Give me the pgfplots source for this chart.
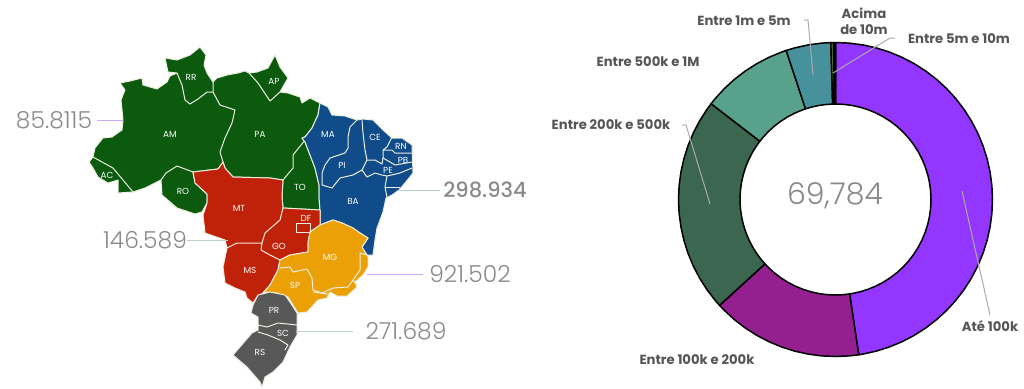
\documentclass[border=0pt]{standalone}
\usepackage{pgfplots}
\pgfplotsset{compat=1.18}
\usepackage{fontspec}
\setmainfont{Poppins}
\newfontfamily\thinface{Poppins Light}
\newfontfamily\midface{Poppins Medium}
\definecolor{mgreen}{HTML}{0B5A0E}
\definecolor{mblue}{HTML}{0F4C89}
\definecolor{mred}{HTML}{C02209}
\definecolor{morange}{HTML}{EBA006}
\definecolor{mgray}{HTML}{585858}
\definecolor{bord}{HTML}{EDEDE0}
\definecolor{numc}{HTML}{8A8A8A}
\definecolor{labc}{HTML}{555555}
\definecolor{leadc}{HTML}{ABABAB}
\definecolor{dpurple}{HTML}{9336FF}
\definecolor{dmag}{HTML}{941F8F}
\definecolor{dgreen}{HTML}{3B6650}
\definecolor{dlight}{HTML}{58A28C}
\definecolor{dteal}{HTML}{46919B}
\definecolor{dolive}{HTML}{5F7F2A}
\definecolor{leadp}{HTML}{C9A8F5}
\definecolor{leadg}{HTML}{B8D2CC}
\newcommand{\mapnum}[1]{{\thinface\fontsize{11.7}{12}\selectfont\textcolor{numc}{#1}}}
\newcommand{\donutlab}[1]{{\bfseries\fontsize{6.6}{8}\selectfont\textcolor{labc}{#1}}}
\newcommand{\statelab}[1]{{\fontsize{4.4}{5}\selectfont\textcolor{white}{#1}}}
\begin{document}
\begin{tikzpicture}
\begin{axis}[scale only axis,x=0.5pt,y=0.5pt,xmin=0,xmax=1024,ymin=0,ymax=388,y dir=reverse,hide axis,
  region/.style={fill=#1,draw=bord,line width=0.5pt,line join=round},
  innerb/.style={draw=bord,line width=0.5pt,line join=round,no marks},
  slice/.style={fill=#1,draw=black,line width=0.75pt,line join=round},
  leader/.style={draw=#1,line width=0.5pt,no marks}]
\path (axis cs:0,0) rectangle (axis cs:1024,388);
% North
\addplot[region=mgreen] coordinates {(93,157)(95,148)(103,138)(112,137)(122,130)(123,120)(121,100)(125,90)(120,83)(130,81)(142,78)(143,85)(157,89)(167,82)(170,76)(177,73)(168,72)(165,58)(177,60)(190,55)(200,47)(206,55)(204,65)(207,73)(213,82)(217,78)(227,75)(238,73)(245,71)(249,73)(257,72)(268,68)(275,55)(280,67)(288,78)(280,92)(288,93)(300,97)(302,103)(310,98)(320,103)(318,115)(312,128)(305,137)(302,138)(305,142)(310,155)(315,168)(319,185)(319,197)(320,210)(283,208)(282,197)(283,180)(270,178)(233,177)(225,168)(223,162)(218,169)(193,172)(195,183)(207,194)(207,203)(202,212)(195,214)(177,208)(162,195)(161,180)(145,188)(133,192)(118,193)(118,180)(108,183)(98,177)(93,168)(89,162)} --cycle;
\addplot[innerb] coordinates {(93,157)(113,168)(123,180)(133,192)};
\addplot[innerb] coordinates {(177,73)(182,85)(185,100)(190,104)(198,99)(207,92)(213,92)(213,82)};
\addplot[innerb] coordinates {(213,92)(220,105)(235,110)(232,123)(225,138)(220,152)(223,162)};
\addplot[innerb] coordinates {(161,180)(166,173)(177,166)(193,172)};
\addplot[innerb] coordinates {(249,73)(258,83)(270,101)(280,92)};
\addplot[innerb] coordinates {(305,140)(293,155)(293,168)(283,180)};
% Northeast
\addplot[region=mblue] coordinates {(320,103)(328,107)(332,115)(345,116)(357,120)(363,119)(373,120)(383,130)(392,138)(402,138)(412,145)(413,173)(405,183)(399,190)(392,195)(386,198)(383,212)(377,228)(375,240)(373,255)(367,255)(365,252)(362,247)(368,238)(360,233)(353,228)(342,223)(333,220)(320,225)(320,210)(319,197)(319,185)(315,168)(310,155)(305,142)(302,138)(305,137)(312,128)(318,115)} --cycle;
\addplot[innerb] coordinates {(357,120)(350,127)(348,137)(348,148)(345,153)(330,158)(325,165)(322,173)(322,185)(332,188)(340,178)(353,175)(362,170)(367,177)(375,173)(382,175)(387,176)(400,173)(412,168)};
\addplot[innerb] coordinates {(387,176)(385,187)(387,197)};
\addplot[innerb] coordinates {(385,187)(400,187)};
\addplot[innerb] coordinates {(362,120)(363,133)(365,150)(367,160)(362,170)};
\addplot[innerb] coordinates {(367,160)(375,160)(382,164)(383,158)(383,150)(387,147)(392,137)};
\addplot[innerb] coordinates {(383,150)(392,150)(395,153)(412,153)};
\addplot[innerb] coordinates {(383,158)(390,162)(395,165)(412,162)};
% Centre-west
\addplot[region=mred] coordinates {(223,162)(225,168)(233,177)(270,178)(283,180)(282,197)(283,208)(320,210)(320,225)(310,232)(308,243)(308,252)(290,255)(280,260)(278,270)(270,285)(263,293)(257,297)(253,303)(247,298)(245,292)(235,288)(225,283)(223,267)(227,248)(225,240)(205,233)(203,215)(207,203)(207,194)(195,183)(193,172)(218,169)} --cycle;
\addplot[innerb] coordinates {(283,208)(280,220)(265,233)(262,243)(258,243)(237,243)(227,248)};
\addplot[innerb] coordinates {(262,243)(261,250)(270,255)(280,260)};
\addplot[innerb] coordinates {(296,223)(310,223)(310,232)(296,232)(296,223)};
% Southeast
\addplot[region=morange] coordinates {(280,260)(290,255)(308,252)(308,243)(310,232)(320,225)(333,220)(342,223)(353,228)(360,233)(368,238)(362,247)(365,252)(367,255)(368,257)(368,267)(363,275)(355,282)(357,287)(347,296)(337,296)(330,292)(327,298)(318,300)(307,312)(298,313)(288,297)(277,293)(265,292)(263,293)(270,285)(278,270)} --cycle;
\addplot[innerb] coordinates {(280,268)(290,267)(293,272)(307,269)(312,278)(313,290)(322,293)(333,288)(348,287)(353,280)(360,270)(360,253)(367,255)};
\addplot[innerb] coordinates {(353,280)(357,285)};
\addplot[innerb] coordinates {(313,292)(328,294)};
% South
\addplot[region=mgray] coordinates {(258,295)(270,292)(285,295)(290,302)(297,313)(297,323)(297,335)(290,347)(283,362)(273,372)(265,377)(262,387)(260,382)(247,367)(233,355)(252,333)(258,330)(258,322)(258,317)(251,313)(253,305)} --cycle;
\addplot[innerb] coordinates {(258,325)(267,327)(278,323)(297,325)};
\addplot[innerb] coordinates {(258,332)(268,335)(280,340)(288,345)(285,350)};
% Leaders of the map
\addplot[leader=leadp] coordinates {(97,120)(123,120)};
\addplot[leader=leadg] coordinates {(187,240)(228,240)};
\addplot[leader=leadg] coordinates {(398,190)(440,190)};
\addplot[leader=leadp] coordinates {(367,274)(423,274)};
\addplot[leader=leadg] coordinates {(296,331)(353,331)};
% Donut slices
\addplot[slice=dpurple] coordinates {(835.5,199.5)(835.5,42.5)(849.18,43.10)(862.76,44.89)(876.13,47.85)(889.20,51.97)(901.85,57.21)(914.00,63.53)(925.55,70.89)(936.42,79.23)(946.52,88.48)(955.77,98.58)(964.11,109.45)(971.47,121.00)(977.79,133.15)(983.03,145.80)(987.15,158.87)(990.11,172.24)(991.90,185.82)(992.5,199.5)(991.90,213.18)(990.11,226.76)(987.15,240.13)(983.03,253.20)(977.79,265.85)(971.47,278.00)(964.11,289.55)(955.77,300.42)(946.52,310.52)(936.42,319.77)(925.55,328.11)(914.00,335.47)(901.85,341.79)(889.20,347.03)(876.13,351.15)(862.76,354.11)(858.71,354.78)} --cycle;
\addplot[slice=dmag] coordinates {(835.5,199.5)(858.71,354.78)(849.18,355.90)(835.5,356.5)(821.82,355.90)(808.24,354.11)(794.87,351.15)(781.80,347.03)(769.15,341.79)(757.00,335.47)(745.45,328.11)(734.58,319.77)(724.48,310.52)(719.56,305.36)} --cycle;
\addplot[slice=dgreen] coordinates {(835.5,199.5)(719.56,305.36)(715.23,300.42)(706.89,289.55)(699.53,278.00)(693.21,265.85)(687.97,253.20)(683.85,240.13)(680.89,226.76)(679.10,213.18)(678.5,199.5)(679.10,185.82)(680.89,172.24)(683.85,158.87)(687.97,145.80)(693.21,133.15)(699.53,121.00)(706.89,109.45)(711.11,103.71)} --cycle;
\addplot[slice=dlight] coordinates {(835.5,199.5)(711.11,103.71)(715.23,98.58)(724.48,88.48)(734.58,79.23)(745.45,70.89)(757.00,63.53)(769.15,57.21)(781.80,51.97)(786.20,50.44)} --cycle;
\addplot[slice=dteal] coordinates {(835.5,199.5)(786.20,50.44)(794.87,47.85)(808.24,44.89)(821.82,43.10)(830.84,42.57)} --cycle;
\addplot[slice=dolive] coordinates {(835.5,199.5)(830.84,42.57)(833.58,42.51)} --cycle;
\addplot[slice=black] coordinates {(835.5,199.5)(833.58,42.51)(835.5,42.5)} --cycle;
% Donut hole
\addplot[fill=white,draw=black,line width=0.75pt] coordinates {(835.5,104)(843.82,104.36)(852.08,105.45)(860.22,107.25)(868.16,109.76)(875.86,112.95)(883.25,116.79)(890.28,121.27)(896.89,126.34)(903.03,131.97)(908.66,138.11)(913.73,144.72)(918.21,151.75)(922.05,159.14)(925.24,166.84)(927.75,174.78)(929.55,182.92)(930.64,191.18)(931.0,199.5)(930.64,207.82)(929.55,216.08)(927.75,224.22)(925.24,232.16)(922.05,239.86)(918.21,247.25)(913.73,254.28)(908.66,260.89)(903.03,267.03)(896.89,272.66)(890.28,277.73)(883.25,282.21)(875.86,286.05)(868.16,289.24)(860.22,291.75)(852.08,293.55)(843.82,294.64)(835.5,295)(827.18,294.64)(818.92,293.55)(810.78,291.75)(802.84,289.24)(795.14,286.05)(787.75,282.21)(780.72,277.73)(774.11,272.66)(767.97,267.03)(762.34,260.89)(757.27,254.28)(752.79,247.25)(748.95,239.86)(745.76,232.16)(743.25,224.22)(741.45,216.08)(740.36,207.82)(740.0,199.5)(740.36,191.18)(741.45,182.92)(743.25,174.78)(745.76,166.84)(748.95,159.14)(752.79,151.75)(757.27,144.72)(762.34,138.11)(767.97,131.97)(774.11,126.34)(780.72,121.27)(787.75,116.79)(795.14,112.95)(802.84,109.76)(810.78,107.25)(818.92,105.45)(827.18,104.36)} --cycle;
% Donut leaders
\addplot[leader=leadc] coordinates {(804,20)(808,20)(813,75)};
\addplot[leader=leadc] coordinates {(895,38)(890,38)(833,73)};
\addplot[leader=leadc] coordinates {(682,125)(686,125)(710,204)};
\addplot[leader=leadc] coordinates {(962,191)(990,315)};
% Text
\node at (axis cs:54,120) {\mapnum{85.8115}};
\node at (axis cs:145,240) {\mapnum{146.589}};
\node at (axis cs:485,190) {{\midface\fontsize{10.5}{12}\selectfont\textcolor{numc}{298.934}}};
\node at (axis cs:470,274) {\mapnum{921.502}};
\node at (axis cs:406,331) {\mapnum{271.689}};
\node at (axis cs:835,196) {{\thinface\fontsize{15}{16}\selectfont\textcolor{numc}{69,784}}};
\node at (axis cs:864,13) {\donutlab{Acima}};
\node at (axis cs:864,30) {\donutlab{de 10m}};
\node at (axis cs:744,21) {\donutlab{Entre 1m e 5m}};
\node at (axis cs:959,39) {\donutlab{Entre 5m e 10m}};
\node at (axis cs:648,62) {\donutlab{Entre 500k e 1M}};
\node at (axis cs:611,125) {\donutlab{Entre 200k e 500k}};
\node at (axis cs:697,360) {\donutlab{Entre 100k e 200k}};
\node at (axis cs:990,326) {\donutlab{Até 100k}};
\node at (axis cs:191,77) {\statelab{RR}};
\node at (axis cs:274,81) {\statelab{AP}};
\node at (axis cs:170,134) {\statelab{AM}};
\node at (axis cs:260,134) {\statelab{PA}};
\node at (axis cs:328,134) {\statelab{MA}};
\node at (axis cs:375,137) {\statelab{CE}};
\node at (axis cs:401,146) {\statelab{RN}};
\node at (axis cs:403,160) {\statelab{PB}};
\node at (axis cs:388,170) {\statelab{PE}};
\node at (axis cs:342,165) {\statelab{PI}};
\node at (axis cs:107,175) {\statelab{AC}};
\node at (axis cs:183,191) {\statelab{RO}};
\node at (axis cs:300,187) {\statelab{TO}};
\node at (axis cs:353,201) {\statelab{BA}};
\node at (axis cs:239,208) {\statelab{MT}};
\node at (axis cs:306,218) {\statelab{DF}};
\node at (axis cs:279,246) {\statelab{GO}};
\node at (axis cs:330,257) {\statelab{MG}};
\node at (axis cs:250,270) {\statelab{MS}};
\node at (axis cs:295,285) {\statelab{SP}};
\node at (axis cs:274,310) {\statelab{PR}};
\node at (axis cs:283,333) {\statelab{SC}};
\node at (axis cs:260,352) {\statelab{RS}};
\end{axis}
\end{tikzpicture}
\end{document}
